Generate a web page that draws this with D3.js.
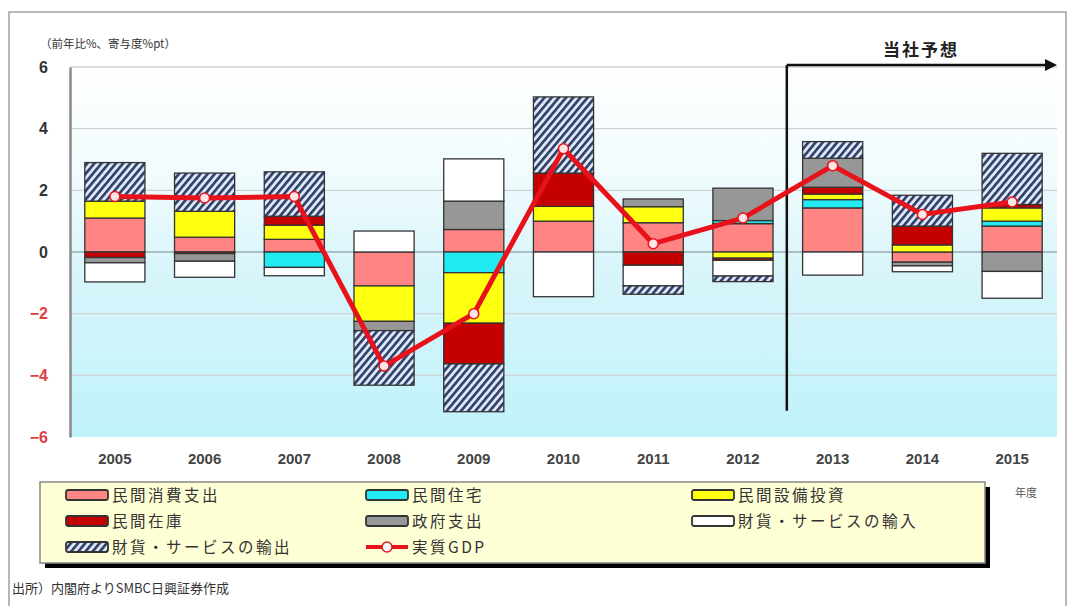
<!DOCTYPE html>
<html>
<head>
<meta charset="utf-8">
<script src="https://cdn.jsdelivr.net/npm/d3@7"></script>
<style>
  html, body { margin: 0; padding: 0; background: #fff; }
  svg { display: block; }
  .jp { font-family: "Noto Sans CJK JP", "Noto Sans", sans-serif; }
  .num { font-family: "Liberation Sans", Arial, sans-serif; font-weight: bold; }
</style>
</head>
<body>
<svg id="chart" width="1073" height="606"></svg>
<script>
// 年度
const years = ["2005", "2006", "2007", "2008", "2009", "2010", "2011", "2012", "2013", "2014", "2015"];

// 需要項目別寄与度（%pt）
const consumption = [1.10, 0.48, 0.41, -1.10, 0.73, 1.00, 0.95, 0.92, 1.43, -0.33, 0.84];   // 民間消費支出
const housing     = [0.00, 0.00, -0.50, 0.00, -0.67, 0.00, 0.00, 0.10, 0.27, 0.00, 0.16];   // 民間住宅
const capex       = [0.55, 0.84, 0.46, -1.15, -1.64, 0.48, 0.52, -0.20, 0.18, 0.23, 0.43];  // 民間設備投資
const inventory   = [-0.18, -0.05, 0.29, 0.00, -1.32, 1.08, -0.43, -0.07, 0.22, 0.61, 0.11]; // 民間在庫
const government  = [-0.17, -0.25, 0.00, -0.30, 0.92, 0.00, 0.25, 1.05, 0.94, -0.12, -0.63]; // 政府支出
const imports     = [-0.62, -0.52, -0.27, 0.68, 1.37, -1.45, -0.67, -0.51, -0.75, -0.19, -0.87]; // 財貨・サービスの輸入
const exports     = [1.25, 1.24, 1.44, -1.77, -1.55, 2.47, -0.27, -0.18, 0.54, 1.00, 1.66];  // 財貨・サービスの輸出

// 実質GDP（前年比%）
const gdp = [1.80, 1.75, 1.80, -3.70, -2.00, 3.35, 0.27, 1.10, 2.80, 1.22, 1.62];

const yTicks = [6, 4, 2, 0, -2, -4, -6];
const forecastFrom = "2013";

const seriesKeys = ["consumption", "housing", "capex", "inventory", "government", "imports", "exports"];
const seriesNames = {
  consumption: "民間消費支出", housing: "民間住宅", capex: "民間設備投資",
  inventory: "民間在庫", government: "政府支出",
  imports: "財貨・サービスの輸入", exports: "財貨・サービスの輸出"
};
const seriesFill = {
  consumption: "#ff8585", housing: "#22eaf2", capex: "#ffff10",
  inventory: "#c40000", government: "#979797", imports: "#ffffff", exports: "url(#hatch)"
};

const rows = years.map((yr, i) => ({
  year: yr,
  consumption: consumption[i], housing: housing[i], capex: capex[i],
  inventory: inventory[i], government: government[i],
  imports: imports[i], exports: exports[i]
}));

const svg = d3.select("#chart");
const plot = { left: 70, right: 1057, top: 67, bottom: 437 };

const defs = svg.append("defs");
const hatch = defs.append("pattern")
  .attr("id", "hatch").attr("patternUnits", "userSpaceOnUse")
  .attr("width", 5.5).attr("height", 5.5)
  .attr("patternTransform", "rotate(40)");
hatch.append("rect").attr("width", 5.5).attr("height", 5.5).attr("fill", "#dde8f6");
hatch.append("rect").attr("x", 0).attr("width", 2.6).attr("height", 5.5).attr("fill", "#2e3c66");

const bg = defs.append("linearGradient").attr("id", "bg")
  .attr("x1", 0).attr("y1", 0).attr("x2", 0).attr("y2", 1);
bg.append("stop").attr("offset", "0%").attr("stop-color", "#ffffff");
bg.append("stop").attr("offset", "30%").attr("stop-color", "#f0fbfd");
bg.append("stop").attr("offset", "55%").attr("stop-color", "#d8f5fa");
bg.append("stop").attr("offset", "100%").attr("stop-color", "#c0f2fa");

// outer frame
svg.append("rect").attr("x", 9).attr("y", 12).attr("width", 1057).attr("height", 600)
  .attr("fill", "#fff").attr("stroke", "#a0a0a0").attr("stroke-width", 1.5);

const x = d3.scaleBand().domain(years).range([plot.left, plot.right])
  .paddingInner(0.33).paddingOuter(0.165);
const y = d3.scaleLinear().domain([-6, 6]).range([plot.bottom, plot.top]);

// plot area
svg.append("rect").attr("x", plot.left).attr("y", plot.top)
  .attr("width", plot.right - plot.left).attr("height", plot.bottom - plot.top)
  .attr("fill", "url(#bg)");

// gridlines
svg.append("g").selectAll("line").data(yTicks.filter(d => d !== 0 && d !== -6)).join("line")
  .attr("x1", plot.left).attr("x2", plot.right)
  .attr("y1", d => y(d)).attr("y2", d => y(d))
  .attr("stroke", "#cfd3d6").attr("stroke-width", 1.4);
svg.append("line").attr("x1", plot.left).attr("x2", plot.right)
  .attr("y1", y(0)).attr("y2", y(0)).attr("stroke", "#7a8a8e").attr("stroke-width", 1.2);

// y axis
const yAxis = svg.append("g").attr("transform", `translate(${plot.left},0)`)
  .call(d3.axisLeft(y).tickValues(yTicks).tickSize(0).tickPadding(22).tickFormat(d3.format("d")));
yAxis.select(".domain").attr("stroke", "#888").attr("stroke-width", 2.5);
yAxis.selectAll("text").attr("class", "num").attr("font-size", 16)
  .attr("fill", d => d < 0 ? "#e04040" : "#333");

// x axis labels
const xAxis = svg.append("g").attr("transform", `translate(0,${plot.bottom})`)
  .call(d3.axisBottom(x).tickSize(0).tickPadding(16));
xAxis.select(".domain").remove();
xAxis.selectAll("text").attr("class", "num").attr("font-size", 15).attr("fill", "#444");

// stacked bars
const stack = d3.stack().keys(seriesKeys).offset(d3.stackOffsetDiverging);
const layers = stack(rows);
svg.append("g").selectAll("g").data(layers).join("g")
  .attr("fill", d => seriesFill[d.key])
  .selectAll("rect").data(d => d.filter(s => Math.abs(s[1] - s[0]) > 1e-9)).join("rect")
  .attr("x", d => x(d.data.year))
  .attr("width", x.bandwidth())
  .attr("y", d => y(Math.max(d[0], d[1])))
  .attr("height", d => Math.abs(y(d[0]) - y(d[1])))
  .attr("stroke", "#333").attr("stroke-width", 1.3);

// forecast marker
const fx = x(forecastFrom) - x.step() * x.paddingInner() / 2 - 1;
const arrowY = y(6) - 2;
svg.append("line").attr("x1", fx).attr("x2", fx).attr("y1", arrowY).attr("y2", y(-5.15))
  .attr("stroke", "#111").attr("stroke-width", 2.5);
svg.append("line").attr("x1", fx).attr("x2", plot.right - 8).attr("y1", arrowY).attr("y2", arrowY)
  .attr("stroke", "#111").attr("stroke-width", 2.5);
svg.append("path")
  .attr("d", `M${plot.right - 12},${arrowY - 6}L${plot.right},${arrowY}L${plot.right - 12},${arrowY + 6}Z`)
  .attr("fill", "#111");
svg.append("text").attr("class", "jp").attr("x", 921).attr("y", arrowY - 9)
  .attr("text-anchor", "middle").attr("font-size", 17).attr("font-weight", "bold")
  .attr("letter-spacing", 2).attr("fill", "#222").text("当社予想");

// real GDP line
const line = d3.line().x((d, i) => x(years[i]) + x.bandwidth() / 2).y(d => y(d));
svg.append("path").datum(gdp).attr("d", line)
  .attr("fill", "none").attr("stroke", "#e8121a").attr("stroke-width", 5).attr("stroke-linejoin", "round");
svg.append("g").selectAll("circle").data(gdp).join("circle")
  .attr("cx", (d, i) => x(years[i]) + x.bandwidth() / 2).attr("cy", d => y(d)).attr("r", 5)
  .attr("fill", "#ffe6e6").attr("stroke", "#e8121a").attr("stroke-width", 1.5);

// axis caption
svg.append("text").attr("class", "jp").attr("x", 40).attr("y", 48)
  .attr("font-size", 11.5).attr("fill", "#333").text("（前年比%、寄与度%pt）");
svg.append("text").attr("class", "jp").attr("x", 1015).attr("y", 497)
  .attr("font-size", 11).attr("fill", "#555").text("年度");

// legend
const lg = { x: 40, y: 482, w: 945, h: 81 };
svg.append("rect").attr("x", lg.x + 5).attr("y", lg.y + 5).attr("width", lg.w).attr("height", lg.h)
  .attr("fill", "#000");
svg.append("rect").attr("x", lg.x).attr("y", lg.y).attr("width", lg.w).attr("height", lg.h)
  .attr("fill", "#ffffd6").attr("stroke", "#888").attr("stroke-width", 1.5);

const legendItems = seriesKeys.map(k => ({ key: k, name: seriesNames[k] }))
  .concat([{ key: "gdp", name: "実質GDP" }]);
const colX = [66, 366, 692];
const rowY = [495, 521, 547];
const li = svg.append("g").selectAll("g").data(legendItems).join("g")
  .attr("transform", (d, i) => `translate(${colX[i % 3]},${rowY[Math.floor(i / 3)]})`);
li.filter(d => d.key !== "gdp").append("rect")
  .attr("x", 0).attr("y", -5).attr("width", 42).attr("height", 10).attr("rx", 2)
  .attr("fill", d => seriesFill[d.key]).attr("stroke", "#333").attr("stroke-width", 1.8);
const g = li.filter(d => d.key === "gdp");
g.append("line").attr("x1", 0).attr("x2", 42).attr("y1", 0).attr("y2", 0)
  .attr("stroke", "#e8121a").attr("stroke-width", 4);
g.append("circle").attr("cx", 21).attr("cy", 0).attr("r", 5)
  .attr("fill", "#fff").attr("stroke", "#e8121a").attr("stroke-width", 1.5);
li.append("text").attr("class", "jp").attr("x", 46).attr("y", 6)
  .attr("font-size", 15.5).attr("letter-spacing", 2.5).attr("fill", "#333")
  .text(d => d.name);

// source
svg.append("text").attr("class", "jp").attr("x", 12).attr("y", 593)
  .attr("font-size", 13).attr("fill", "#333").text("出所）内閣府よりSMBC日興証券作成");
</script>
</body>
</html>
